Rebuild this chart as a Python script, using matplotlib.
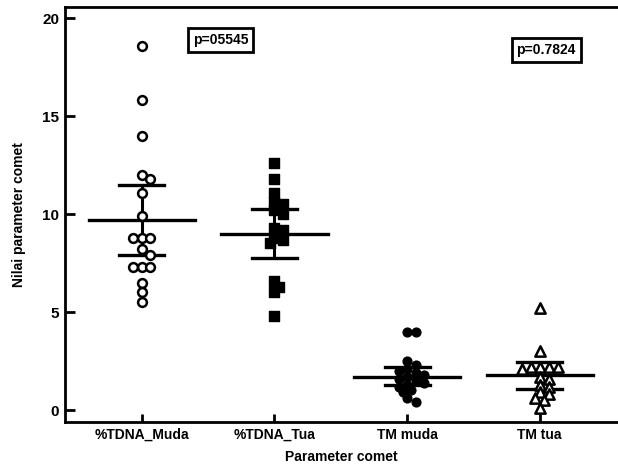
import numpy as np
import matplotlib.pyplot as plt

plt.rcParams['font.family'] = ['Liberation Sans', 'DejaVu Sans']
plt.rcParams['font.weight'] = 'bold'

# Kategori dan data
categories = ["%TDNA_Muda", "%TDNA_Tua", "TM muda", "TM tua"]

tdna_muda = [18.6, 15.8, 14.0, 12.0, 11.8, 11.1, 9.9, 8.8, 8.8, 8.8,
             8.2, 7.9, 7.3, 7.3, 7.3, 6.5, 6.0, 5.5]
tdna_tua = [12.6, 11.8, 11.1, 10.6, 10.5, 10.2, 10.0, 9.3, 9.2, 8.8,
            8.7, 8.5, 6.6, 6.3, 6.0, 4.8]
tm_muda = [4.0, 4.0, 2.5, 2.3, 2.1, 2.0, 1.9, 1.8, 1.7, 1.6, 1.5,
           1.4, 1.3, 1.2, 1.0, 0.9, 0.6, 0.4]
tm_tua = [5.2, 3.0, 2.2, 2.2, 2.2, 2.2, 2.1, 1.7, 1.6, 1.3, 1.2,
          0.9, 0.8, 0.6, 0.5, 0.1]

# garis tengah dan batas atas/bawah
center_vals = [9.7, 9.0, 1.7, 1.8]
upper_vals = [11.5, 10.25, 2.2, 2.45]
lower_vals = [7.9, 7.75, 1.3, 1.1]

p_texts = ["p=05545", "p=0.7824"]

groups = [tdna_muda, tdna_tua, tm_muda, tm_tua]


def swarm(vals, xscale, yscale, d, frac):
    # posisi x sederhana supaya titik tidak terlalu bertumpuk
    placed = []
    offs = []
    cands = [0]
    for i in range(1, 20):
        cands += [i, -i]
    for v in vals:
        y = v * yscale
        for c in cands:
            x = c * d / 2
            ok = True
            for (px, py) in placed:
                if (px - x) ** 2 + (py - y) ** 2 < (d * frac) ** 2:
                    ok = False
                    break
            if ok:
                break
        placed.append((x, y))
        offs.append(x / xscale)
    return np.array(offs)


fig = plt.figure(figsize=(6.18, 4.76), dpi=100)
ax = fig.add_axes([0.105, 0.1134, 0.895, 0.8716])

xpx = 132.7
ypx = 19.6
styles = [
    dict(marker='o', s=40, facecolors='white', edgecolors='black', linewidths=1.8),
    dict(marker='s', s=48, facecolors='black', edgecolors='black', linewidths=1.0),
    dict(marker='o', s=40, facecolors='black', edgecolors='black', linewidths=1.0),
    dict(marker='^', s=55, facecolors='white', edgecolors='black', linewidths=1.8),
]
sizes_px = [8.5, 9, 8.5, 9]
fracs = [0.9, 0.7, 0.75, 0.8]

for i, vals in enumerate(groups):
    offs = swarm(vals, xpx, ypx, sizes_px[i], fracs[i])
    xs = i + offs
    # garis vertikal dan whisker
    ax.plot([i, i], [lower_vals[i], upper_vals[i]], color='black', lw=2.2, zorder=2)
    ax.plot([i - 0.17, i + 0.17], [upper_vals[i], upper_vals[i]], color='black', lw=2.4, zorder=2)
    ax.plot([i - 0.17, i + 0.17], [lower_vals[i], lower_vals[i]], color='black', lw=2.4, zorder=2)
    ax.plot([i - 0.4, i + 0.4], [center_vals[i], center_vals[i]], color='black', lw=2.4, zorder=2)
    ax.scatter(xs, vals, zorder=3, **styles[i])

ax.set_xlim(-0.58, 3.59)
ax.set_ylim(-0.61, 20.56)
ax.set_xticks(range(len(categories)))
ax.set_xticklabels(categories, fontsize=10, fontweight='bold')
ax.set_yticks([0, 5, 10, 15, 20])
ax.tick_params(axis='y', direction='in', length=7, width=2, labelsize=11, pad=4)
ax.tick_params(axis='x', direction='in', length=6, width=2, labelsize=10, pad=4)
for lab in ax.get_yticklabels():
    lab.set_fontweight('bold')

ax.spines['right'].set_visible(False)
for sp in ['left', 'bottom', 'top']:
    ax.spines[sp].set_linewidth(2)

ax.set_ylabel("Nilai parameter comet", fontsize=10, fontweight='bold', labelpad=12)
ax.set_xlabel("Parameter comet", fontsize=10, fontweight='bold', labelpad=6)

box = dict(boxstyle='square,pad=0.35', facecolor='white', edgecolor='black', linewidth=2)
ax.text(0.282, 0.920, p_texts[0], transform=ax.transAxes, ha='center', va='center',
        fontsize=10, fontweight='bold', bbox=box)
ax.text(0.870, 0.896, p_texts[1], transform=ax.transAxes, ha='center', va='center',
        fontsize=10, fontweight='bold', bbox=box)

plt.savefig("out.png", dpi=100)
